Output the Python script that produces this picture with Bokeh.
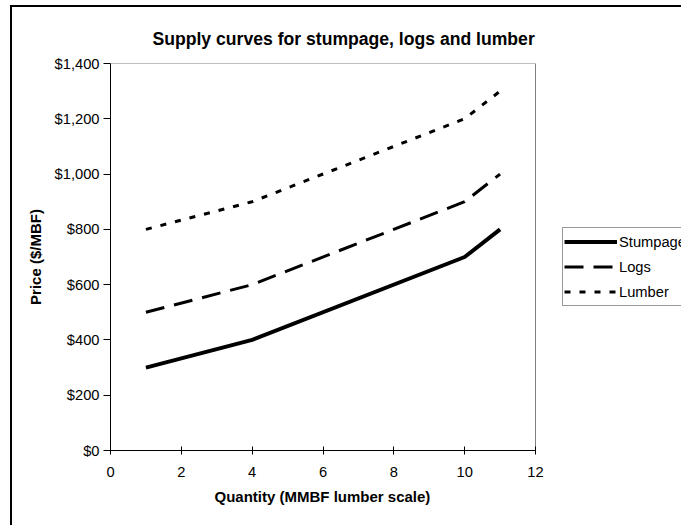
from bokeh.plotting import figure
from bokeh.models import (FixedTicker, NumeralTickFormatter, Legend, LegendItem, Range1d, Title)
from bokeh.embed import file_html
from bokeh.resources import INLINE

# ---- data ----
quantity = [1, 4, 10, 11]
stumpage = [300, 400, 700, 800]
logs = [500, 600, 900, 1000]
lumber = [800, 900, 1200, 1300]
series_names = ["Stumpage", "Logs", "Lumber"]
x_ticks = [0, 2, 4, 6, 8, 10, 12]
y_ticks = [0, 200, 400, 600, 800, 1000, 1200, 1400]
chart_title = "Supply curves for stumpage, logs and lumber"
x_title = "Quantity (MMBF lumber scale)"
y_title = "Price ($/MBF)"

FONT = "Liberation Sans"

# plot area is 425 px wide for the 0..12 axis; the frame runs on to the window edge
PLOT_W = 425
FRAME_W = 681 - 110
x_end = x_ticks[-1] * FRAME_W / PLOT_W

p = figure(width=681, height=525, output_backend="svg", toolbar_location=None,
           x_range=Range1d(x_ticks[0], x_end), y_range=Range1d(y_ticks[0], y_ticks[-1]),
           min_border_left=110, min_border_right=0,
           min_border_top=63, min_border_bottom=75)

p.background_fill_color = "white"
p.border_fill_alpha = 0
p.outline_line_color = None
p.xgrid.visible = False
p.ygrid.visible = False

# outer chart-area border: top and left edges (the others lie past the window)
p.styles = {
    "background-color": "white",
    "background-image": "linear-gradient(#000, #000), linear-gradient(#000, #000)",
    "background-size": "2px 100%, 100% 2px",
    "background-position": "10px 5px, 10px 5px",
    "background-repeat": "no-repeat",
}

# plot-area border (grey)
p.quad(left=[x_ticks[0]], right=[x_ticks[-1]], bottom=[y_ticks[0]], top=[y_ticks[-1]],
       fill_color=None, line_color="#808080", line_width=1)

# title
p.title.text = chart_title
p.title.align = "left"
p.title.offset = 42
p.title.text_font = FONT
p.title.text_font_size = "17.6px"
p.title.text_font_style = "bold"
p.title.text_color = "black"
p.title.standoff = 29

# axes
for ax in (p.xaxis[0], p.yaxis[0]):
    ax.axis_line_color = "black"
    ax.axis_line_width = 1
    ax.major_tick_line_color = "black"
    ax.minor_tick_line_color = None
    ax.major_label_text_font = FONT
    ax.major_label_text_font_size = "14.7px"
    ax.major_label_text_color = "black"
    ax.axis_label_text_font = FONT
    ax.axis_label_text_font_size = "15px"
    ax.axis_label_text_font_style = "bold"
    ax.axis_label_text_color = "black"

p.xaxis.ticker = FixedTicker(ticks=x_ticks)
p.xaxis.bounds = (x_ticks[0], x_ticks[-1])
p.xaxis.major_tick_in = 4
p.xaxis.major_tick_out = 4
p.xaxis.major_label_standoff = 12

# x-axis title, centred under the 0..12 axis
xt = Title(text=x_title, align="left", offset=104, standoff=13,
           text_font=FONT, text_font_size="15px", text_font_style="bold",
           text_color="black")
p.add_layout(xt, "below")

p.yaxis.ticker = FixedTicker(ticks=y_ticks)
p.yaxis.formatter = NumeralTickFormatter(format="$0,0")
p.yaxis.major_tick_in = 0
p.yaxis.major_tick_out = 7
p.yaxis.major_label_standoff = 4
p.yaxis.axis_label = y_title
p.yaxis.axis_label_standoff = 8

# lines
r1 = p.line(quantity, stumpage, line_color="black", line_width=4)
r2 = p.line(quantity, logs, line_color="black", line_width=3, line_dash="19 10")
r3 = p.line(quantity, lumber, line_color="black", line_width=3, line_dash="6 9")

legend = Legend(items=[LegendItem(label=series_names[0], renderers=[r1]),
                       LegendItem(label=series_names[1], renderers=[r2]),
                       LegendItem(label=series_names[2], renderers=[r3])],
                location=(452, 144), margin=0, padding=1, spacing=0,
                glyph_width=53, glyph_height=25, label_height=25,
                label_standoff=2,
                label_text_font=FONT, label_text_font_size="14.7px",
                label_text_color="black",
                border_line_color="#333333", border_line_width=1,
                background_fill_color="white", background_fill_alpha=1)
p.add_layout(legend, "center")

open("out.html", "w").write(file_html(p, INLINE))
